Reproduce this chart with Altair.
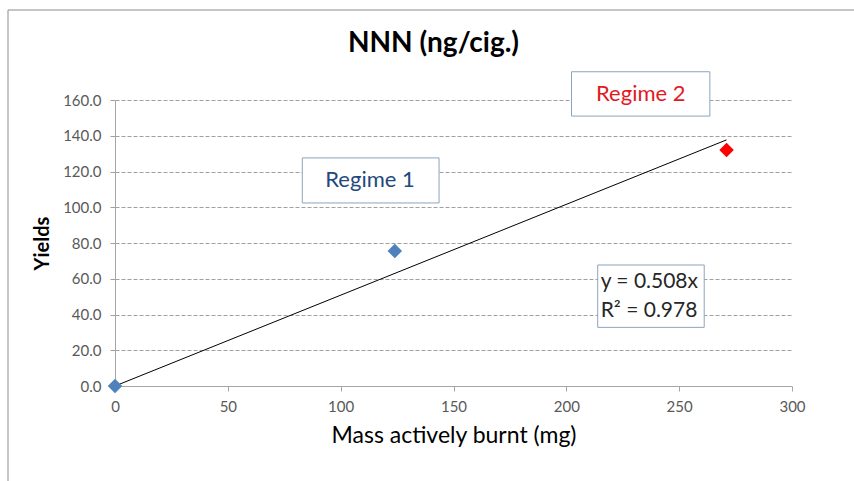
import altair as alt
import pandas as pd

# ---- data ----
mass = [0, 124, 271]
yields = [0, 75.5, 132]
regime = ["Regime 1", "Regime 1", "Regime 2"]

trend_x = [0, 271]
trend_y = [0, 137.7]

box_names = ["Regime 1", "Regime 2", "equation"]
box_x1 = [83.0, 202.3, 213.9]
box_x2 = [143.6, 263.6, 261.1]
box_y1 = [102.4, 151.0, 32.8]
box_y2 = [127.6, 175.8, 67.7]

label_text = ["Regime 1", "Regime 2"]
label_x = [113.0, 233.0]
label_y = [115.2, 163.4]
label_color = ["#1F497D", "#E3191F"]

eq_text = ["y = 0.508x", "R² = 0.978"]
eq_x = [215.2, 215.2]
eq_y = [58.2, 42.0]

x_ticks = [0, 50, 100, 150, 200, 250, 300]
y_ticks = [0, 20, 40, 60, 80, 100, 120, 140, 160]

pts = pd.DataFrame({"mass": mass, "yields": yields, "regime": regime})
trend = pd.DataFrame({"mass": trend_x, "yields": trend_y})
boxes = pd.DataFrame({"name": box_names, "x1": box_x1, "x2": box_x2, "y1": box_y1, "y2": box_y2})
labels = pd.DataFrame({"text": label_text, "x": label_x, "y": label_y, "color": label_color})
eqs = pd.DataFrame({"text": eq_text, "x": eq_x, "y": eq_y})

FONT = "Lato"
xs = alt.Scale(domain=[0, 300], nice=False, zero=False)
ys = alt.Scale(domain=[0, 160], nice=False, zero=False)

x_axis = alt.Axis(values=x_ticks, title="Mass actively burnt (mg)", grid=False,
                  labelFont=FONT, labelFontSize=15, labelColor="#595959", labelPadding=8,
                  labelFlush=False, labelOverlap=False,
                  tickColor="#A6A6A6", tickSize=5, domainColor="#A6A6A6",
                  titleFont=FONT, titleFontSize=23, titleFontWeight="normal",
                  titleColor="#000000", titlePadding=10)
y_axis = alt.Axis(values=y_ticks, format=".1f", title="Yields", grid=True,
                  gridColor="#A0A0A0", gridDash=[4, 2], gridWidth=1,
                  labelFont=FONT, labelFontSize=15, labelColor="#595959", labelPadding=9,
                  labelFlush=False, labelOverlap=False,
                  tickColor="#A0A0A0", tickSize=5, domainColor="#A6A6A6",
                  titleFont=FONT, titleFontSize=20, titleFontWeight="bold",
                  titleColor="#000000", titlePadding=10)

frame = alt.Chart(pd.DataFrame({"a": [0]})).mark_rect(
    filled=False, stroke="#8C8C8C", strokeWidth=1
).encode(x=alt.value(-107), x2=alt.value(900), y=alt.value(-90), y2=alt.value(500))

base_axes = alt.Chart(trend).mark_line(color="black", strokeWidth=1).encode(
    x=alt.X("mass:Q", scale=xs, axis=x_axis),
    y=alt.Y("yields:Q", scale=ys, axis=y_axis),
)

box_layer = alt.Chart(boxes).mark_rect(
    fill="white", stroke="#8BA5BE", strokeWidth=1
).encode(
    x=alt.X("x1:Q", scale=xs, axis=x_axis), x2="x2:Q",
    y=alt.Y("y1:Q", scale=ys, axis=y_axis), y2="y2:Q",
)

points = alt.Chart(pts).mark_point(shape="diamond", filled=True, size=210, opacity=1).encode(
    x=alt.X("mass:Q", scale=xs, axis=x_axis),
    y=alt.Y("yields:Q", scale=ys, axis=y_axis),
    color=alt.Color("regime:N", scale=alt.Scale(domain=["Regime 1", "Regime 2"],
                                                range=["#4F81BD", "#FF0000"]), legend=None),
)

label_layer = alt.Chart(labels).mark_text(font=FONT, fontSize=22, align="center",
                                          baseline="middle").encode(
    x=alt.X("x:Q", scale=xs, axis=x_axis), y=alt.Y("y:Q", scale=ys, axis=y_axis), text="text:N",
    color=alt.Color("color:N", scale=None),
)

eq_layer = alt.Chart(eqs).mark_text(font=FONT, fontSize=21, align="left",
                                    baseline="middle", color="#262626").encode(
    x=alt.X("x:Q", scale=xs, axis=x_axis), y=alt.Y("y:Q", scale=ys, axis=y_axis), text="text:N",
)

chart = alt.layer(frame, base_axes, box_layer, points, label_layer, eq_layer).properties(
    width=677, height=286,
    title=alt.TitleParams("NNN (ng/cig.)", font=FONT, fontSize=28, fontWeight="bold",
                          color="#000000", anchor="middle", baseline="middle",
                          dx=-20, offset=-62),
    autosize=alt.AutoSizeParams(type="none"),
    padding={"left": 115, "top": 100, "right": 62, "bottom": 95},
    background="white",
).configure_view(strokeWidth=0)

chart.save("out.html", embed_options={"renderer": "svg", "actions": False})
